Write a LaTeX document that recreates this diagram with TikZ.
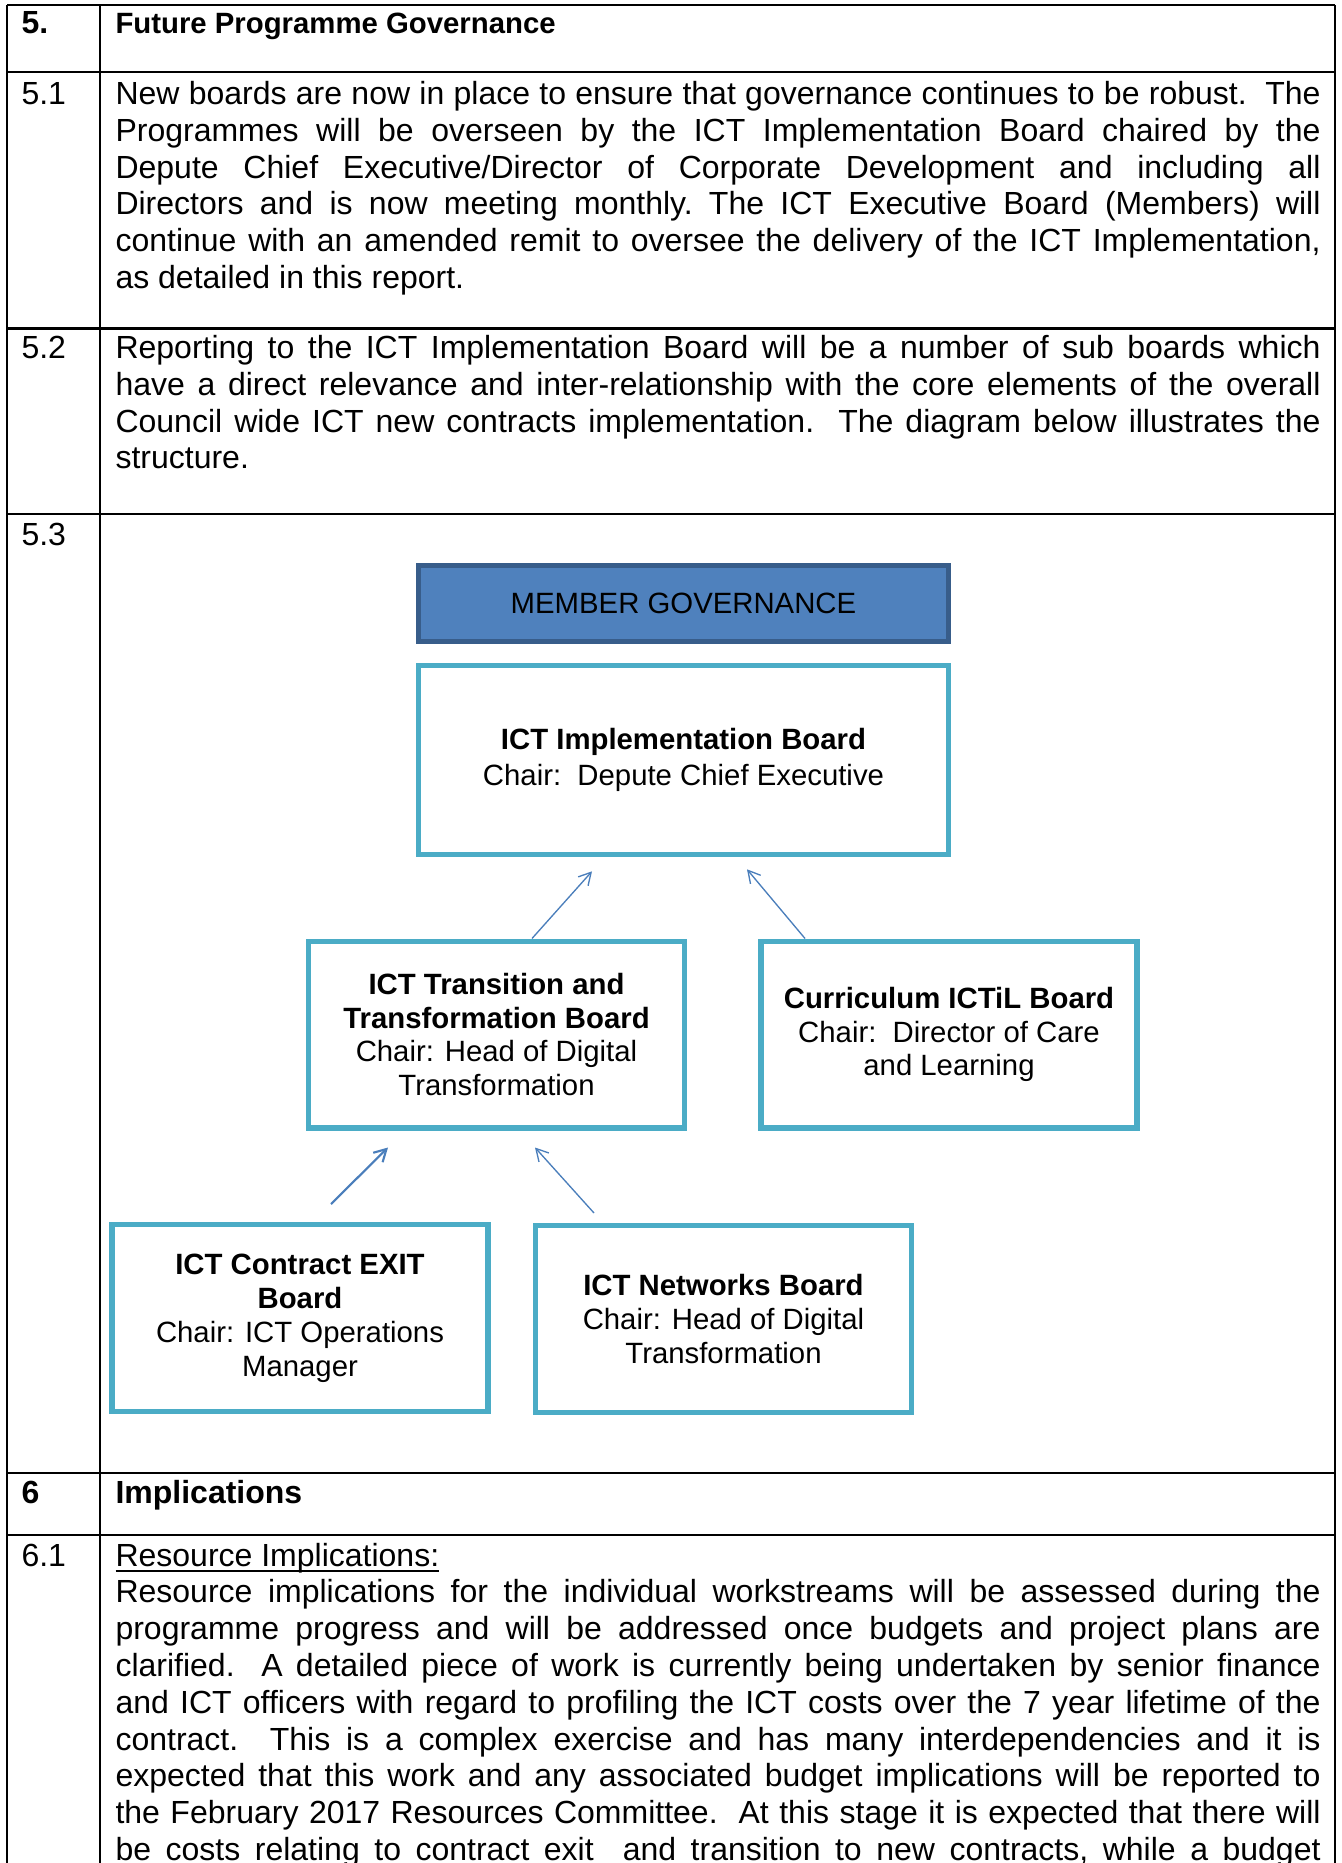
\documentclass[tikz,border=0pt]{standalone}
\usepackage{fontspec}
\setmainfont{Liberation Sans}
\usetikzlibrary{arrows.meta,calc}

\definecolor{govblue}{HTML}{4F81BD}
\definecolor{govedge}{HTML}{385D8A}
\definecolor{boardedge}{HTML}{4BACC6}
\definecolor{linkblue}{HTML}{4A7EBB}

\newlength\colw
\setlength\colw{451.9pt}
\newcommand\jline[1]{\hbox to \colw{#1}}
\newcommand\eline[1]{\hbox to \colw{#1\hfil}}
\newcommand\undl[1]{\setbox0\hbox{#1}\rlap{\rule[-2.2pt]{\wd0}{0.6pt}}\box0}

\tikzset{
    govbox/.style={draw=govedge, fill=govblue, line width=2pt, minimum width=198.75pt, minimum height=28.5pt, inner sep=0pt, font=\fontsize{11}{12.7}\selectfont},
    board/.style={draw=boardedge, fill=white, line width=2pt, minimum width=141pt, minimum height=70pt, inner sep=0pt, align=center, font=\fontsize{11}{12.7}\selectfont, execute at begin node={\rule{0pt}{10.5pt}}},
    link/.style={draw=linkblue, line width=0.5pt, -{Straight Barb[length=4.5pt,width=5pt]}},
    lbl/.style={anchor=base west, inner sep=0pt, font=\fontsize{12}{13.8}\selectfont},
    rule/.style={line width=0.9pt}
}

\begin{document}
\begin{tikzpicture}[x=0.375pt, y=-0.375pt]
        \useasboundingbox (0,0) rectangle (1341,1863);
        \clip (0,0) rectangle (1341,1863);

        \draw[rule] (7,5) -- (1335,5);
        \draw[rule] (7,72) -- (1335,72);
        \draw[rule] (7,328.5) -- (1335,328.5);
        \draw[rule] (7,514) -- (1335,514);
        \draw[rule] (7,1473) -- (1335,1473);
        \draw[rule] (7,1535) -- (1335,1535);
        \draw[rule] (7,5) -- (7,1870);
        \draw[rule] (100,5) -- (100,1870);
        \draw[rule] (1335,5) -- (1335,1870);

        \node[lbl, font=\fontsize{12}{13.8}\selectfont\bfseries] (num5) at (21,34) {5.};
        \node[lbl, font=\fontsize{11}{12.7}\selectfont\bfseries] (head5) at (115,34) {Future Programme Governance};
        \node[lbl] (num51) at (21,104.5) {5.1};
        \node[lbl] (num52) at (21,358.5) {5.2};
        \node[lbl] (num53) at (21,546) {5.3};
        \node[lbl, font=\fontsize{12}{13.8}\selectfont\bfseries] (num6) at (21,1503) {6};
        \node[lbl, font=\fontsize{12}{13.8}\selectfont\bfseries] (head6) at (115,1503) {Implications};
        \node[lbl] (num61) at (21,1566) {6.1};

        \node[lbl] (text51) at (115,104.5) {\parbox[t]{\colw}{\frenchspacing
            \jline{New boards are now in place to ensure that governance continues to be robust.\ \ The}
            \jline{Programmes will be overseen by the ICT Implementation Board chaired by the}
            \jline{Depute Chief Executive/Director of Corporate Development and including all}
            \jline{Directors and is now meeting monthly. The ICT Executive Board (Members) will}
            \jline{continue with an amended remit to oversee the delivery of the ICT Implementation,}
            \eline{as detailed in this report.}}};

        \node[lbl] (text52) at (115,358.5) {\parbox[t]{\colw}{\frenchspacing
            \jline{Reporting to the ICT Implementation Board will be a number of sub boards which}
            \jline{have a direct relevance and inter-relationship with the core elements of the overall}
            \jline{Council wide ICT new contracts implementation.\ \ The diagram below illustrates the}
            \eline{structure.}}};

        \node[lbl] (text61) at (115,1566) {\parbox[t]{\colw}{\frenchspacing
            \eline{\undl{Resource Implications:}}
            \jline{Resource implications for the individual workstreams will be assessed during the}
            \jline{programme progress and will be addressed once budgets and project plans are}
            \jline{clarified.\ \ A detailed piece of work is currently being undertaken by senior finance}
            \jline{and ICT officers with regard to profiling the ICT costs over the 7 year lifetime of the}
            \jline{contract.\ \ This is a complex exercise and has many interdependencies and it is}
            \jline{expected that this work and any associated budget implications will be reported to}
            \jline{the February 2017 Resources Committee.\ \ At this stage it is expected that there will}
            \jline{be costs relating to contract exit\ \ and transition to new contracts, while a budget}}};

        \node[govbox] (member) at (683.5,603.5) {MEMBER GOVERNANCE};
        \node[board, minimum width=198.75pt, minimum height=71pt, font=\fontsize{11}{13.5}\selectfont] (implBoard) at (683.5,760) {
            \textbf{ICT Implementation Board}\\
            Chair:\ \ Depute Chief Executive
        };
        \node[board] (transBoard) at (496.5,1034.5) {
            \textbf{ICT Transition and}\\
            \textbf{Transformation Board}\\
            Chair: Head of Digital\\
            Transformation
        };
        \node[board] (currBoard) at (949,1034.5) {
            \textbf{Curriculum ICTiL Board}\\
            Chair:\ \ Director of Care\\
            and Learning
        };
        \node[board] (exitBoard) at (300,1318) {
            \textbf{ICT Contract EXIT}\\
            \textbf{Board}\\
            Chair: ICT Operations\\
            Manager
        };
        \node[board] (netBoard) at (723.5,1319) {
            \textbf{ICT Networks Board}\\
            Chair: Head of Digital\\
            Transformation
        };

        \draw[link] ($(transBoard.north)+(35.5,0)$) -- ($(implBoard.south)+(-91.5,14)$);
        \draw[link] ($(currBoard.north)+(-144,0)$) -- ($(implBoard.south)+(63.5,12)$);
        \draw[link, line width=0.8pt] ($(exitBoard.north)+(31,-18)$) -- ($(transBoard.south)+(-108.5,17)$);
        \draw[link] ($(netBoard.north)+(-129.5,-10)$) -- ($(transBoard.south)+(38.5,17)$);
    \end{tikzpicture}
\end{document}
